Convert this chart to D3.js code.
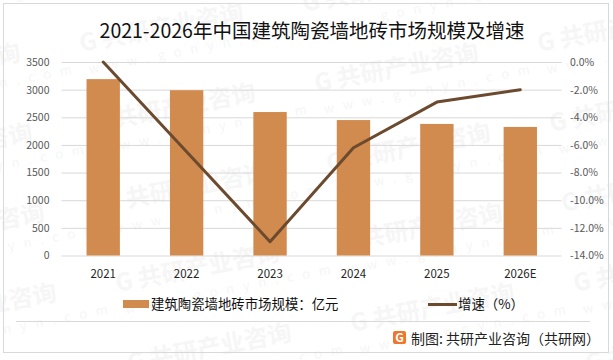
<!DOCTYPE html>
<html>
<head>
<meta charset="utf-8">
<style>
html, body { margin: 0; padding: 0; background: #fff; }
svg { display: block; }
text { font-family: "Noto Sans CJK SC", "Noto Sans", sans-serif; }
</style>
<script src="https://cdn.jsdelivr.net/npm/d3@7"></script>
</head>
<body>
<svg id="chart" width="613" height="360"></svg>
<script>
const years = ['2021', '2022', '2023', '2024', '2025', '2026E'];
const scaleValues = [3190, 2990, 2595, 2450, 2380, 2325];
const growthValues = [0, -6.5, -13, -6.2, -2.9, -2];
const leftTicks = [0, 500, 1000, 1500, 2000, 2500, 3000, 3500];
const rightTicks = [0, -2, -4, -6, -8, -10, -12, -14];

const svg = d3.select('#chart');

const x = d3.scaleBand().domain(years).range([61.5, 562]).paddingInner(0.6).paddingOuter(0.3);
const yLeft = d3.scaleLinear().domain([0, 3500]).range([255.5, 62]);
const yRight = d3.scaleLinear().domain([-14, 0]).range([255.5, 62]);

// watermark sits on a tilted lattice behind everything
const marks = svg.append('g').attr('id', 'watermark');
d3.range(-1, 3).forEach(function (col) {
    d3.range(-1, 5).forEach(function (row) {
        const wx = 80 + col * 235 + row * 12;
        const wy = 45 + col * 40 + row * 80;
        // skip the ones that fall completely outside the picture
        if (wx + 180 < 0 || wx > 613 || wy < -10 || wy > 370) return;
        const g = marks.append('g').attr('transform', `translate(${wx},${wy}) rotate(-11)`);
        g.append('text')
            .attr('x', 0)
            .attr('y', 7)
            .attr('font-size', 24)
            .attr('font-weight', 700)
            .attr('fill', '#f6f6f6')
            .text('G 共研产业咨询');
        g.append('text')
            .attr('x', 4)
            .attr('y', 30)
            .attr('font-size', 13)
            .attr('letter-spacing', 9)
            .attr('fill', '#f6f6f6')
            .text('www.gonyn.com');
    });
});

// outer frame and footer rule
svg.append('rect')
    .attr('x', 3.5).attr('y', 3.5)
    .attr('width', 605).attr('height', 349)
    .attr('fill', 'none').attr('stroke', '#d9d9d9');
svg.append('line')
    .attr('x1', 16).attr('x2', 590)
    .attr('y1', 321.5).attr('y2', 321.5)
    .attr('stroke', '#d9d9d9');

svg.append('text')
    .attr('x', 312).attr('y', 38)
    .attr('text-anchor', 'middle')
    .attr('font-size', 19.5)
    .attr('fill', '#111')
    .text('2021-2026年中国建筑陶瓷墙地砖市场规模及增速');

// gridlines
svg.append('g')
    .attr('transform', 'translate(61.5,0)')
    .call(d3.axisRight(yLeft).tickValues(leftTicks).tickSize(500).tickFormat(''))
    .call(g => g.select('.domain').remove())
    .call(g => g.selectAll('line').attr('stroke', '#d9d9d9'));

// left axis
svg.append('g')
    .attr('transform', 'translate(61.5,0)')
    .call(d3.axisLeft(yLeft).tickValues(leftTicks).tickSize(0).tickPadding(12).tickFormat(d3.format('d')))
    .call(g => g.select('.domain').remove())
    .call(g => g.selectAll('text')
        .attr('font-size', 10.5).attr('fill', '#595959')
        .style('font-family', '"Noto Sans CJK SC", sans-serif'));

// right axis
svg.append('g')
    .attr('transform', 'translate(562,0)')
    .call(d3.axisRight(yRight).tickValues(rightTicks).tickSize(0).tickPadding(8).tickFormat(d => d.toFixed(1) + '%'))
    .call(g => g.select('.domain').remove())
    .call(g => g.selectAll('text')
        .attr('font-size', 10.5).attr('fill', '#595959')
        .style('font-family', '"Noto Sans CJK SC", sans-serif'));

// bottom axis
svg.append('g')
    .attr('transform', 'translate(0,255.5)')
    .call(d3.axisBottom(x).tickSize(0).tickPadding(14))
    .call(g => g.select('.domain').remove())
    .call(g => g.selectAll('text')
        .attr('font-size', 11.5).attr('fill', '#262626')
        .style('font-family', '"Noto Sans CJK SC", sans-serif'));

// bars
svg.append('g').selectAll('rect')
    .data(scaleValues)
    .enter()
    .append('rect')
    .attr('x', (d, i) => x(years[i]))
    .attr('y', d => yLeft(d))
    .attr('width', x.bandwidth())
    .attr('height', d => yLeft(0) - yLeft(d))
    .attr('fill', '#d18b4f');

// growth line
const line = d3.line()
    .x((d, i) => x(years[i]) + x.bandwidth() / 2)
    .y(d => yRight(d));
svg.append('path')
    .datum(growthValues)
    .attr('d', line)
    .attr('fill', 'none')
    .attr('stroke', '#6b4a2e')
    .attr('stroke-width', 3)
    .attr('stroke-linecap', 'round')
    .attr('stroke-linejoin', 'round');

// legend
svg.append('rect')
    .attr('x', 123).attr('y', 300)
    .attr('width', 26).attr('height', 8)
    .attr('fill', '#d18b4f');
svg.append('text')
    .attr('x', 151).attr('y', 309)
    .attr('font-size', 13.4).attr('fill', '#111')
    .text('建筑陶瓷墙地砖市场规模：亿元');
svg.append('line')
    .attr('x1', 428).attr('x2', 457)
    .attr('y1', 304.5).attr('y2', 304.5)
    .attr('stroke', '#6b4a2e').attr('stroke-width', 3);
svg.append('text')
    .attr('x', 458).attr('y', 309)
    .attr('font-size', 13.4).attr('fill', '#111')
    .text('增速（%）');

// footer logo and credit
const logo = svg.append('g').attr('transform', 'translate(393,331)');
logo.append('rect')
    .attr('width', 13).attr('height', 13).attr('rx', 2)
    .attr('fill', '#f0762c');
logo.append('text')
    .attr('x', 6.5).attr('y', 11)
    .attr('text-anchor', 'middle')
    .attr('font-size', 12).attr('font-weight', 700)
    .attr('fill', '#fff')
    .text('G');
svg.append('text')
    .attr('x', 411).attr('y', 344)
    .attr('font-size', 14).attr('fill', '#222')
    .text('制图: 共研产业咨询（共研网）');
</script>
</body>
</html>
